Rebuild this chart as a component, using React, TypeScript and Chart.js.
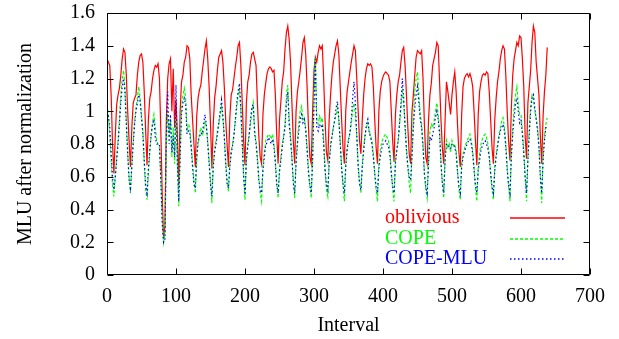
import React, { useEffect, useRef } from "react";
import { Chart, registerables } from "chart.js";

Chart.register(...registerables);

const FONT = "'Liberation Serif', 'Times New Roman', serif";

// MLU after normalization, one sample every 2 intervals (interval 0 .. 638)
const oblivious = [
  1.32, 1.30, 1.28, 1.1, 0.8,
  0.62, 0.85, 1.04, 1.1, 1.14, 1.22, 1.32, 1.38, 1.36, 1.22, 1.0, 0.82,
  0.66, 0.9, 1.05, 1.08, 1.1, 1.22, 1.3, 1.34, 1.35, 1.3, 1.12, 0.88,
  0.67, 0.95, 1.08, 1.12, 1.2, 1.25, 1.28, 1.27, 1.29, 1.2, 0.88, 0.5,
  0.22, 0.3, 0.95, 1.2, 1.29, 1.32, 1.0, 1.26, 0.9, 1.07, 0.85,
  0.55, 1.0, 1.18, 1.22, 1.3, 1.33, 1.4, 1.39, 1.32, 1.1, 0.95, 0.8,
  0.66, 0.97, 1.08, 1.13, 1.16, 1.24, 1.31, 1.38, 1.43, 1.32, 1.15, 0.92,
  0.65, 0.92, 1.08, 1.15, 1.25, 1.33, 1.35, 1.37, 1.3, 1.15, 0.95, 0.8,
  0.66, 0.96, 1.1, 1.13, 1.2, 1.27, 1.33, 1.4, 1.42, 1.28, 1.05, 0.82,
  0.67, 1.05, 1.18, 1.22, 1.3, 1.35, 1.36, 1.32, 1.28, 1.05, 0.85, 0.72,
  0.68, 0.98, 1.1, 1.17, 1.23, 1.26, 1.27, 1.26, 1.24, 1.25, 1.1, 0.85,
  0.68, 0.95, 1.06, 1.18, 1.24, 1.38, 1.48, 1.52, 1.44, 1.3, 1.05, 0.82,
  0.68, 1.0, 1.12, 1.18, 1.25, 1.33, 1.42, 1.45, 1.35, 1.15, 0.9, 0.72,
  0.68, 1.0, 1.25, 1.33, 1.3, 1.36, 1.4, 1.38, 1.4, 1.2, 0.95, 0.75,
  0.7, 0.95, 1.1, 1.22, 1.3, 1.35, 1.4, 1.43, 1.35, 1.15, 0.95, 0.78,
  0.68, 1.0, 1.12, 1.18, 1.24, 1.3, 1.35, 1.4, 1.37, 1.2, 1.0, 0.82,
  0.74, 0.95, 1.1, 1.2, 1.26, 1.29, 1.28, 1.29, 1.27, 1.15, 0.95, 0.78,
  0.68, 1.0, 1.12, 1.18, 1.21, 1.23, 1.24, 1.23, 1.22, 1.18, 1.0, 0.82,
  0.69, 0.98, 1.1, 1.18, 1.22, 1.3, 1.37, 1.39, 1.28, 1.1, 0.9, 0.74,
  0.68, 1.0, 1.1, 1.22, 1.33, 1.37, 1.36, 1.35, 1.37, 1.2, 0.92, 0.72,
  0.68, 0.95, 1.1, 1.17, 1.28, 1.32, 1.36, 1.42, 1.4, 1.18, 0.95, 0.78,
  0.68, 0.95, 1.18, 1.12, 1.05, 0.98, 1.1, 1.18, 1.24, 1.12, 0.92, 0.75,
  0.66, 0.98, 1.15, 1.2, 1.22, 1.23, 1.21, 1.23, 1.2, 1.15, 1.0, 0.82,
  0.67, 0.98, 1.12, 1.18, 1.22, 1.23, 1.22, 1.24, 1.23, 1.12, 0.95, 0.78,
  0.68, 0.95, 1.08, 1.18, 1.24, 1.32, 1.37, 1.4, 1.38, 1.22, 1.0, 0.82,
  0.7, 1.02, 1.22, 1.32, 1.37, 1.42, 1.4, 1.46, 1.45, 1.32, 1.15, 0.85,
  0.71, 1.05, 1.15, 1.25, 1.42, 1.52, 1.48, 1.3, 1.2, 1.1, 0.85,
  0.68, 0.97, 1.12, 1.22, 1.39,
];

const cope = [
  1.04, 0.98, 0.85, 0.7, 0.55,
  0.48, 0.6, 0.72, 0.82, 0.96, 1.1, 1.2, 1.25, 1.15, 0.95, 0.75, 0.6,
  0.5, 0.68, 0.82, 0.94, 1.02, 1.08, 1.15, 1.08, 0.98, 0.88, 0.68, 0.52,
  0.46, 0.62, 0.75, 0.85, 0.93, 0.98, 0.9, 0.82, 0.8, 0.78, 0.6, 0.35,
  0.2, 0.25, 0.8, 1.0, 0.85, 0.95, 0.72, 0.9, 0.68, 0.95, 0.7,
  0.42, 0.75, 1.02, 1.1, 1.14, 1.08, 0.88, 0.92, 0.9, 0.8, 0.68, 0.58,
  0.5, 0.7, 0.8, 0.86, 0.9, 0.85, 0.88, 0.94, 0.9, 0.82, 0.7, 0.58,
  0.44, 0.68, 0.77, 0.82, 0.88, 0.92, 0.98, 1.03, 0.95, 0.85, 0.7, 0.58,
  0.51, 0.68, 0.76, 0.8, 0.86, 0.94, 1.02, 1.1, 1.13, 1.0, 0.82, 0.62,
  0.46, 0.72, 0.8, 0.86, 0.92, 1.0, 1.05, 0.88, 0.82, 0.72, 0.6, 0.5,
  0.45, 0.66, 0.75, 0.82, 0.84, 0.86, 0.85, 0.83, 0.86, 0.8, 0.7, 0.56,
  0.47, 0.65, 0.72, 0.8, 0.85, 0.92, 1.1, 1.16, 0.95, 0.85, 0.7, 0.58,
  0.47, 0.7, 0.82, 0.93, 1.0, 1.03, 0.95, 0.96, 0.9, 0.78, 0.65, 0.54,
  0.47, 0.72, 1.1, 1.33, 0.95, 0.92, 0.97, 0.94, 0.96, 0.82, 0.66, 0.52,
  0.48, 0.7, 0.8, 0.85, 0.9, 0.94, 0.98, 1.02, 0.95, 0.82, 0.66, 0.55,
  0.45, 0.68, 0.78, 0.83, 0.86, 0.92, 1.0, 1.05, 0.98, 0.85, 0.68, 0.56,
  0.5, 0.68, 0.78, 0.86, 0.9, 0.93, 0.88, 0.85, 0.82, 0.74, 0.62, 0.52,
  0.45, 0.68, 0.76, 0.81, 0.83, 0.85, 0.86, 0.84, 0.82, 0.76, 0.64, 0.52,
  0.45, 0.7, 0.77, 0.82, 0.92, 1.02, 1.12, 1.05, 0.92, 0.78, 0.66, 0.56,
  0.5, 0.75, 0.95, 1.12, 1.2, 1.24, 1.1, 0.98, 0.92, 0.8, 0.62, 0.52,
  0.47, 0.7, 0.88, 0.92, 0.9, 0.94, 1.0, 1.05, 0.98, 0.88, 0.7, 0.56,
  0.47, 0.72, 0.82, 0.78, 0.8, 0.75, 0.82, 0.79, 0.8, 0.76, 0.64, 0.52,
  0.46, 0.68, 0.74, 0.77, 0.8, 0.82, 0.84, 0.86, 0.82, 0.76, 0.65, 0.53,
  0.45, 0.66, 0.74, 0.8, 0.83, 0.85, 0.86, 0.84, 0.8, 0.73, 0.62, 0.52,
  0.46, 0.66, 0.74, 0.8, 0.85, 0.9, 0.94, 0.96, 0.9, 0.8, 0.66, 0.54,
  0.45, 0.75, 0.9, 1.02, 1.1, 1.15, 1.05, 0.98, 0.98, 0.88, 0.76, 0.6,
  0.45, 0.72, 0.9, 1.04, 1.1, 1.08, 1.0, 0.96, 0.9, 0.8, 0.6,
  0.44, 0.72, 0.85, 0.92, 0.96,
];

const copeMlu = [
  1.0, 0.97, 0.9, 0.75, 0.6,
  0.52, 0.6, 0.7, 0.8, 0.92, 1.05, 1.15, 1.2, 1.12, 0.92, 0.74, 0.58,
  0.53, 0.66, 0.8, 0.92, 1.0, 1.05, 1.1, 1.06, 0.96, 0.86, 0.7, 0.55,
  0.5, 0.65, 0.76, 0.86, 0.92, 0.95, 0.84, 0.8, 0.8, 0.8, 0.58, 0.32,
  0.2, 0.22, 0.85, 1.12, 0.8, 0.98, 0.75, 0.85, 0.72, 1.16, 0.68,
  0.45, 0.72, 0.98, 1.05, 1.08, 1.04, 0.86, 0.88, 0.87, 0.78, 0.66, 0.55,
  0.53, 0.72, 0.82, 0.84, 0.87, 0.86, 0.92, 0.98, 0.92, 0.8, 0.68, 0.55,
  0.48, 0.66, 0.75, 0.8, 0.86, 0.93, 1.0, 1.07, 0.97, 0.84, 0.68, 0.56,
  0.53, 0.66, 0.74, 0.79, 0.85, 0.95, 1.05, 1.12, 1.17, 1.02, 0.8, 0.6,
  0.49, 0.7, 0.78, 0.85, 0.95, 1.03, 1.04, 0.86, 0.8, 0.7, 0.58, 0.52,
  0.5, 0.64, 0.72, 0.79, 0.81, 0.84, 0.82, 0.8, 0.83, 0.78, 0.68, 0.55,
  0.5, 0.63, 0.7, 0.78, 0.84, 0.9, 1.05, 1.12, 0.92, 0.83, 0.72, 0.56,
  0.5, 0.68, 0.8, 0.88, 0.95, 0.98, 0.93, 0.95, 0.88, 0.76, 0.62, 0.55,
  0.5, 0.7, 1.05, 1.32, 0.9, 0.88, 0.92, 0.9, 0.92, 0.8, 0.64, 0.55,
  0.52, 0.68, 0.78, 0.84, 0.9, 0.95, 1.02, 1.06, 0.95, 0.8, 0.65, 0.56,
  0.5, 0.66, 0.76, 0.82, 0.87, 0.95, 1.08, 1.18, 1.05, 0.85, 0.66, 0.56,
  0.52, 0.66, 0.76, 0.85, 0.92, 0.95, 0.87, 0.84, 0.8, 0.72, 0.62, 0.54,
  0.5, 0.65, 0.72, 0.77, 0.8, 0.81, 0.82, 0.8, 0.78, 0.73, 0.62, 0.54,
  0.5, 0.68, 0.76, 0.82, 0.93, 1.05, 1.2, 1.08, 0.9, 0.76, 0.66, 0.6,
  0.58, 0.72, 0.9, 1.02, 1.1, 1.15, 1.05, 0.95, 0.9, 0.78, 0.62, 0.54,
  0.5, 0.68, 0.84, 0.82, 0.86, 0.9, 0.96, 1.0, 0.95, 0.86, 0.68, 0.56,
  0.5, 0.7, 0.8, 0.8, 0.78, 0.77, 0.8, 0.8, 0.78, 0.74, 0.63, 0.54,
  0.5, 0.66, 0.72, 0.75, 0.78, 0.8, 0.82, 0.83, 0.8, 0.74, 0.64, 0.55,
  0.5, 0.64, 0.7, 0.76, 0.79, 0.81, 0.82, 0.8, 0.77, 0.72, 0.62, 0.54,
  0.5, 0.64, 0.72, 0.78, 0.84, 0.88, 0.9, 0.92, 0.88, 0.78, 0.64, 0.55,
  0.5, 0.72, 0.86, 0.96, 1.04, 1.08, 1.0, 0.93, 0.95, 0.86, 0.74, 0.6,
  0.5, 0.7, 0.86, 1.0, 1.08, 1.1, 1.02, 0.95, 0.88, 0.78, 0.6,
  0.5, 0.7, 0.82, 0.9, 0.9,
];

const SAMPLE_STEP = 2;
const intervals = oblivious.map((_, i) => i * SAMPLE_STEP);

const xTicks = [0, 100, 200, 300, 400, 500, 600, 700];
const yTicks = [0, 0.2, 0.4, 0.6, 0.8, 1, 1.2, 1.4, 1.6];

const seriesNames = ["oblivious", "COPE", "COPE-MLU"];
const seriesValues = [oblivious, cope, copeMlu];
const seriesColors = ["#ff0000", "#00ff00", "#0000ff"];
const seriesDash: number[][] = [[], [3, 2], [1.5, 2.5]];

const framePlugin = {
  id: "gnuFrame",
  afterDraw(chart: any) {
    const { ctx, chartArea: a, scales } = chart;
    const L = Math.round(a.left) + 0.5;
    const R = Math.round(a.right) - 0.5;
    const T = Math.round(a.top) + 0.5;
    const B = Math.round(a.bottom) - 0.5;
    ctx.save();
    ctx.strokeStyle = "#000";
    ctx.lineWidth = 1;
    ctx.setLineDash([]);
    ctx.beginPath();
    ctx.rect(L, T, R - L, B - T);
    const tl = 6;
    xTicks.forEach((v) => {
      const px = Math.round(scales.x.getPixelForValue(v)) + 0.5;
      ctx.moveTo(px, B);
      ctx.lineTo(px, B - tl);
      ctx.moveTo(px, T);
      ctx.lineTo(px, T + tl);
    });
    yTicks.forEach((v) => {
      const py = Math.round(scales.y.getPixelForValue(v)) + 0.5;
      ctx.moveTo(L, py);
      ctx.lineTo(L + tl, py);
      ctx.moveTo(R, py);
      ctx.lineTo(R - tl, py);
    });
    ctx.stroke();

    // key
    const rows = [218, 239, 259];
    ctx.font = `20px ${FONT}`;
    ctx.textAlign = "left";
    ctx.textBaseline = "middle";
    seriesNames.forEach((name, k) => {
      const y = rows[k];
      ctx.fillStyle = seriesColors[k];
      ctx.fillText(name, 385, y);
      ctx.strokeStyle = seriesColors[k];
      ctx.lineWidth = 1.3;
      ctx.setLineDash(seriesDash[k]);
      ctx.beginPath();
      ctx.moveTo(510, y);
      ctx.lineTo(565, y);
      ctx.stroke();
    });
    ctx.restore();
  },
};

export default function App() {
  const ref = useRef<HTMLCanvasElement | null>(null);

  useEffect(() => {
    if (!ref.current) return;
    const chart = new Chart(ref.current, {
      type: "line",
      data: {
        datasets: seriesValues.map((vals, k) => ({
          label: seriesNames[k],
          data: vals.map((v, i) => ({ x: intervals[i], y: v })),
          borderColor: seriesColors[k],
          backgroundColor: seriesColors[k],
          borderWidth: 1.2,
          borderDash: seriesDash[k],
          pointRadius: 0,
          fill: false,
          tension: 0,
          order: 3 - k,
        })),
      },
      options: {
        responsive: false,
        animation: false,
        layout: { padding: { left: 0, right: 29, top: 13, bottom: 0 } },
        plugins: {
          legend: { display: false },
          tooltip: { enabled: false },
        },
        scales: {
          x: {
            type: "linear",
            min: 0,
            max: 700,
            grid: { display: false, drawTicks: false },
            border: { display: false },
            afterFit: (s: any) => {
              s.height = 64;
              s.paddingLeft = 0;
              s.paddingRight = 0;
            },
            afterBuildTicks: (s: any) => {
              s.ticks = xTicks.map((v) => ({ value: v }));
            },
            ticks: {
              padding: 10,
              color: "#000",
              maxRotation: 0,
              autoSkip: false,
              font: { family: FONT, size: 20 },
            },
            title: {
              display: true,
              text: "Interval",
              color: "#000",
              font: { family: FONT, size: 20 },
              padding: { top: 0, bottom: 1 },
            },
          },
          y: {
            type: "linear",
            min: 0,
            max: 1.6,
            grid: { display: false, drawTicks: false },
            border: { display: false },
            afterFit: (s: any) => {
              s.width = 107;
              s.paddingTop = 0;
              s.paddingBottom = 0;
            },
            afterBuildTicks: (s: any) => {
              s.ticks = yTicks.map((v) => ({ value: v }));
            },
            ticks: {
              padding: 12,
              color: "#000",
              autoSkip: false,
              font: { family: FONT, size: 20 },
              callback: (v: any) => String(Math.round(Number(v) * 10) / 10),
            },
            title: {
              display: true,
              text: "MLU after normalization",
              color: "#000",
              font: { family: FONT, size: 20 },
              padding: { top: 14, bottom: 0 },
            },
          },
        },
      },
      plugins: [framePlugin],
    });
    return () => chart.destroy();
  }, []);

  return (
    <div style={{ position: "absolute", left: 0, top: 0, width: 619, height: 339, background: "#fff" }}>
      <canvas ref={ref} width={619} height={339} style={{ display: "block" }} />
    </div>
  );
}
